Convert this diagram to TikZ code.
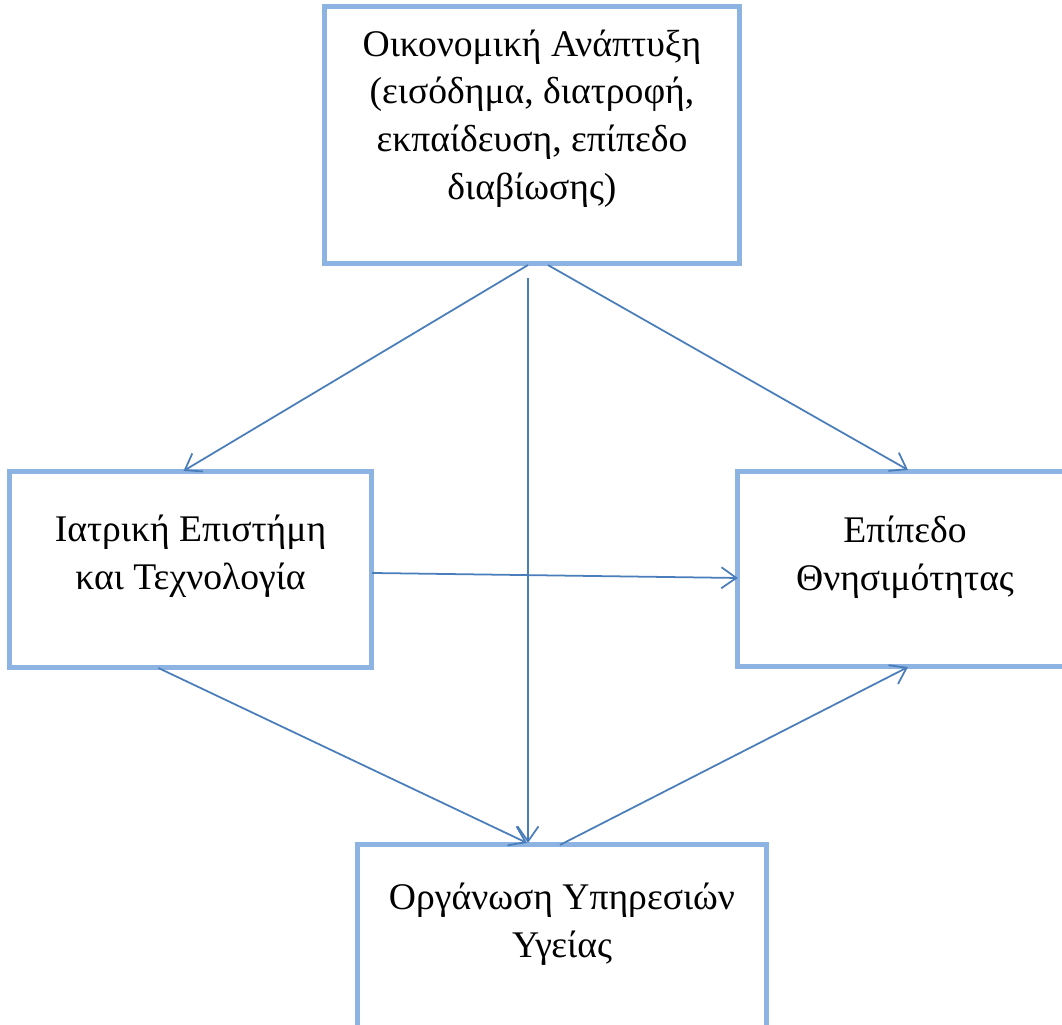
\documentclass[tikz,border=0pt]{standalone}
\usepackage{fontspec}
\setmainfont{Liberation Serif}
\usetikzlibrary{arrows.meta,calc,positioning}
\definecolor{boxblue}{RGB}{141,179,226}
\definecolor{arrowblue}{RGB}{74,126,187}

\begin{document}
\begin{tikzpicture}[x=0.01cm,y=-0.01cm,
    box/.style={draw=boxblue,line width=1.4pt,rectangle,inner sep=0pt,outer sep=0pt},
    txt/.style={align=center,inner sep=0pt,font=\fontsize{10.7}{13.6}\selectfont},
    >={Straight Barb[length=1.5mm,width=2.1mm]},
    conn/.style={->,draw=arrowblue,line width=0.5pt}]
  \useasboundingbox (0,0) rectangle (1062,1025);

  % boxes
  \node[box,minimum width=41.4mm,minimum height=25.6mm] (econ) at (532,135) {};
  \node[box,minimum width=36.1mm,minimum height=19.5mm] (med) at (190.5,569.5) {};
  \node[box,minimum width=33.4mm,minimum height=19.4mm] (mort) at (905,569) {};
  \node[box,minimum width=40.8mm,minimum height=19.5mm] (health) at (562,942.5) {};

  % texts
  \node[txt,below=2.2mm of econ.north] (econtxt) {Οικονομική Ανάπτυξη\\(εισόδημα, διατροφή,\\εκπαίδευση, επίπεδο\\διαβίωσης)};
  \node[txt,below=4.2mm of med.north] (medtxt) {Ιατρική Επιστήμη\\και Τεχνολογία};
  \node[txt,below=4.3mm of mort.north] (morttxt) {Επίπεδο\\Θνησιμότητας};
  \node[txt,below=3.7mm of health.north] (healthtxt) {Οργάνωση Υπηρεσιών\\Υγείας};

  % connectors
  \path
    ($(econ.south)+(-4,2)$) edge[conn] ($(med.north)+(-7,-1)$)
    ($(econ.south)+(16,2)$) edge[conn] ($(mort.north)+(3,-2)$)
    ($(econ.south)+(-4,15)$) edge[conn] ($(health.north)+(-34,-2)$)
    ($(med.east)+(1,3.5)$) edge[conn] ($(mort.west)+(0,9)$)
    ($(med.south)+(-32,1)$) edge[conn] ($(health.north)+(-35,-2)$)
    ($(health.north)+(-2,0)$) edge[conn] ($(mort.south)+(3,1)$);
\end{tikzpicture}
\end{document}
